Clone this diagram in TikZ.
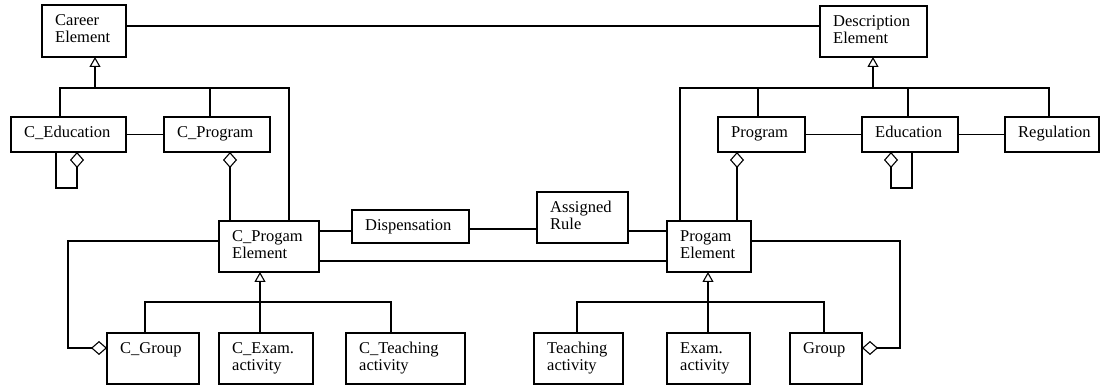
\documentclass[tikz,border=0pt]{standalone}
\usepackage{fontspec}
\setmainfont{Liberation Serif}
\usetikzlibrary{arrows.meta}
\tikzset{
  box/.style={draw, line width=1.1pt, anchor=north west, inner sep=0pt, outer sep=0pt},
  lbl/.style={anchor=base west, inner sep=0pt, font=\fontsize{16.5}{17}\selectfont},
  conn/.style={line width=1.1pt},
  gen/.style={conn, -{Triangle[open, length=10pt, width=11pt, line width=1.1pt]}},
  agg/.style={conn, {Diamond[open, length=16pt, width=14pt, line width=1.1pt]}-}
}
\newcommand{\umlbox}[6]{%
  \node[box, minimum width=#4pt-#2pt, minimum height=#5pt-#3pt] (#1) at (#2,#3) {};
  \node[lbl] (#1-t) at (#2+13,#3+21) {\begin{tabular}[t]{@{}l@{}}#6\end{tabular}};
}
\begin{document}
\begin{tikzpicture}[x=1pt,y=-1pt]
\useasboundingbox (0,0) rectangle (1101,387);
% boxes
\umlbox{ce}{42}{5}{126}{57}{Career\\Element}
\umlbox{de}{820}{6}{927}{57}{Description\\Element}
\umlbox{ced}{11}{117}{126}{152}{C\_Education}
\umlbox{cpr}{164}{117}{270}{152}{C\_Program}
\umlbox{pr}{718}{117}{805}{152}{Program}
\umlbox{ed}{862}{117}{958}{152}{Education}
\umlbox{reg}{1005}{117}{1099}{152}{Regulation}
\umlbox{cpe}{219}{221}{319}{272}{C\_Progam\\Element}
\umlbox{disp}{352}{210}{469}{243}{Dispensation}
\umlbox{ar}{537}{192}{628}{243}{Assigned\\Rule}
\umlbox{pe}{667}{221}{751}{272}{Progam\\Element}
\umlbox{cg}{107}{333}{199}{384}{C\_Group}
\umlbox{cex}{219}{333}{313}{384}{C\_Exam.\\activity}
\umlbox{cte}{346}{333}{465}{384}{C\_Teaching\\activity}
\umlbox{te}{534}{333}{623}{384}{Teaching\\activity}
\umlbox{ex}{667}{333}{750}{384}{Exam.\\activity}
\umlbox{gr}{790}{333}{862}{384}{Group}
% top association
\draw[conn] (ce.east |- 0,26) -- (de.west |- 0,26);
% career generalization
\draw[conn] (ced.north -| 60,0) -- (60,88) -- (289,88) -- (cpe.north -| 289,0);
\draw[conn] (210,88) -- (cpr.north -| 210,0);
\draw[gen] (95,88) -- (ce.south -| 95,0);
\draw[conn] (ced.east) -- (cpr.west);
\draw[agg] (ced.south -| 77,0) -- (77,188) -- (56,188) -- (ced.south -| 56,0);
\draw[agg] (cpr.south -| 230,0) -- (cpe.north -| 230,0);
% middle
\draw[conn] (cpe.east |- 0,231) -- (disp.west |- 0,231);
\draw[conn] (disp.east |- 0,229) -- (ar.west |- 0,229);
\draw[conn] (ar.east |- 0,231) -- (pe.west |- 0,231);
\draw[conn] (cpe.east |- 0,261) -- (pe.west |- 0,261);
\draw[agg] (cg.west |- 0,348) -- (68,348) -- (68,241) -- (cpe.west |- 0,241);
% c program element generalization
\draw[conn] (cg.north -| 145,0) -- (145,302) -- (391,302) -- (cte.north -| 391,0);
\draw[conn] (260,302) -- (cex.north -| 260,0);
\draw[gen] (260,302) -- (cpe.south -| 260,0);
% program element generalization
\draw[conn] (te.north -| 577,0) -- (577,302) -- (824,302) -- (gr.north -| 824,0);
\draw[conn] (708,302) -- (ex.north -| 708,0);
\draw[gen] (708,302) -- (pe.south -| 708,0);
\draw[agg] (gr.east |- 0,348) -- (900,348) -- (900,241) -- (pe.east |- 0,241);
% description generalization
\draw[conn] (pe.north -| 680,0) -- (680,88) -- (1049,88) -- (reg.north -| 1049,0);
\draw[conn] (758,88) -- (pr.north -| 758,0);
\draw[conn] (908,88) -- (ed.north -| 908,0);
\draw[gen] (873,88) -- (de.south -| 873,0);
\draw[conn] (pr.east) -- (ed.west);
\draw[conn] (ed.east) -- (reg.west);
\draw[agg] (pr.south -| 737,0) -- (pe.north -| 737,0);
\draw[agg] (ed.south -| 891,0) -- (891,188) -- (912,188) -- (ed.south -| 912,0);
\end{tikzpicture}
\end{document}
